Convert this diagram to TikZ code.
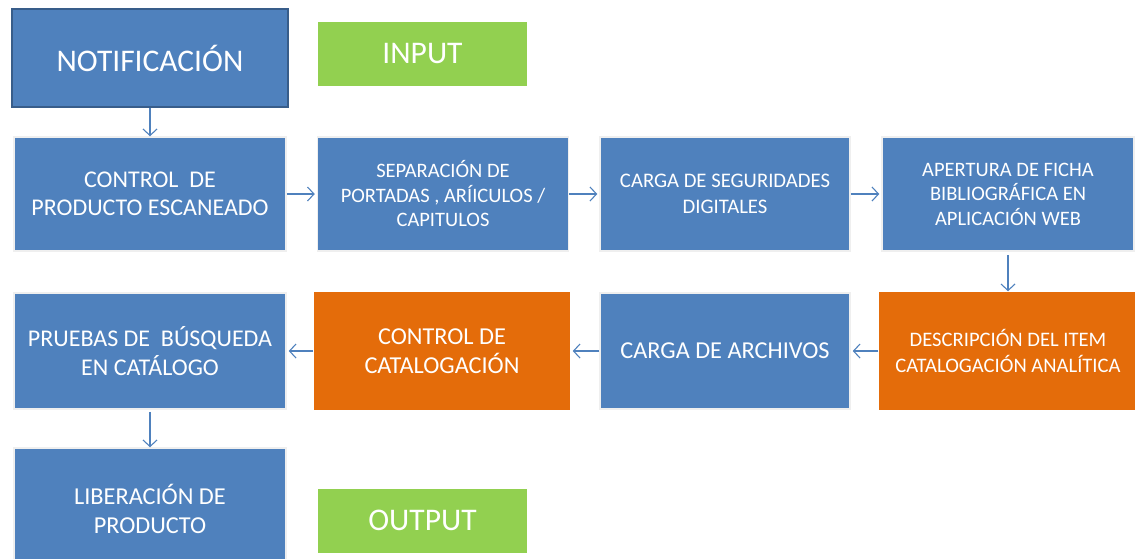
\documentclass[tikz,border=0pt]{standalone}
\usepackage{fontspec}
\setmainfont{Carlito}
\usetikzlibrary{arrows.meta}
\definecolor{azul}{HTML}{4F81BD}
\definecolor{azuloscuro}{HTML}{385D8A}
\definecolor{naranja}{HTML}{E46C0A}
\definecolor{verde}{HTML}{92D050}
\definecolor{halo}{HTML}{EFEFEF}
\begin{document}
\begin{tikzpicture}[x=1pt,y=-1pt,
  caja/.style={rectangle,fill=azul,draw=halo,line width=1.5pt,text=white,align=center,inner sep=0pt},
  naranjo/.style={caja,fill=naranja,draw=none},
  etiqueta/.style={rectangle,fill=verde,text=white,inner sep=0pt,minimum width=209pt,minimum height=64pt,font=\fontsize{31.5}{36}\selectfont},
  flecha/.style={draw=azul,line width=1.1pt,-{Straight Barb[length=6.5pt,width=14pt]}}]
\useasboundingbox (0,0) rectangle (1135,558);
% primera fila
\node[caja,draw=azuloscuro,line width=2.2pt,minimum width=276pt,minimum height=98pt,font=\fontsize{31.5}{36}\selectfont] (notif) at (150,58) {NOTIFICACIÓN};
\node[etiqueta] (input) at (422.5,54) {INPUT};
\node[caja,minimum width=272pt,minimum height=114pt,font=\fontsize{24}{28.5}\selectfont] (ctrl) at (150,194) {CONTROL\ \ DE\\PRODUCTO ESCANEADO};
\node[caja,minimum width=251pt,minimum height=114pt,font=\fontsize{20.5}{24.5}\selectfont] (sep) at (443,194) {SEPARACIÓN DE\\PORTADAS , ARÍICULOS /\\CAPITULOS};
\node[caja,minimum width=250pt,minimum height=114pt,font=\fontsize{20.7}{26}\selectfont] (seg) at (725,194) {CARGA DE SEGURIDADES\\DIGITALES};
\node[caja,minimum width=252pt,minimum height=114pt,font=\fontsize{20.5}{24.5}\selectfont] (ficha) at (1008,194) {APERTURA DE FICHA\\BIBLIOGRÁFICA EN\\APLICACIÓN WEB};
% segunda fila
\node[caja,minimum width=272pt,minimum height=116pt,font=\fontsize{24}{29}\selectfont] (pruebas) at (150,351) {PRUEBAS DE\ \ BÚSQUEDA\\EN CATÁLOGO};
\node[naranjo,minimum width=256pt,minimum height=118pt,font=\fontsize{24.3}{29}\selectfont] (ctrlcat) at (442,351) {CONTROL DE\\CATALOGACIÓN};
\node[caja,minimum width=250pt,minimum height=116pt,font=\fontsize{24.3}{28}\selectfont] (archivos) at (725,351) {CARGA DE ARCHIVOS};
\node[naranjo,minimum width=258pt,minimum height=118pt,font=\fontsize{20.6}{26}\selectfont] (desc) at (1008,351) {DESCRIPCIÓN DEL ITEM\\CATALOGACIÓN ANALÍTICA};
% tercera fila
\node[caja,minimum width=272pt,minimum height=122pt,font=\fontsize{24.3}{28.5}\selectfont] (libera) at (150,509) {LIBERACIÓN DE\\PRODUCTO};
\node[etiqueta] (output) at (422.5,520.5) {OUTPUT};
% flechas
\draw[flecha] (notif) -- (ctrl);
\draw[flecha,shorten >=2pt] (ctrl) -- (sep);
\draw[flecha,shorten >=2pt] (sep) -- (seg);
\draw[flecha,shorten >=2pt] (seg) -- (ficha);
\draw[flecha,shorten <=3pt] (ficha) -- (desc);
\draw[flecha,shorten >=2pt] (desc) -- (archivos);
\draw[flecha,shorten >=2pt] (archivos) -- (ctrlcat);
\draw[flecha,shorten >=2pt] (ctrlcat) -- (pruebas);
\draw[flecha,shorten <=2pt] (pruebas) -- (libera);
\end{tikzpicture}
\end{document}
